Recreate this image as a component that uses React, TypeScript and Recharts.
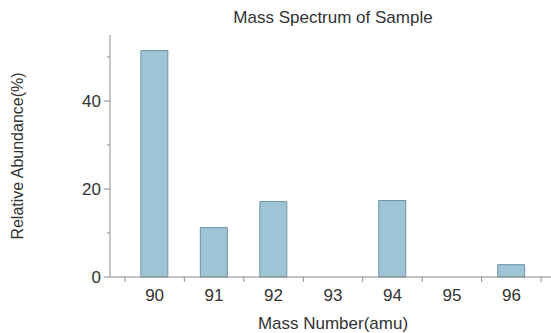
import { BarChart, Bar, XAxis, YAxis } from 'recharts';

const masses = [90, 91, 92, 93, 94, 95, 96];
const abundance = [51.45, 11.22, 17.15, 0, 17.38, 0, 2.8];
const xTicks = [89.5, 90, 90.5, 91, 91.5, 92, 92.5, 93, 93.5, 94, 94.5, 95, 95.5, 96, 96.5];
const yTicks = [0, 10, 20, 30, 40, 50];

const data = masses.map((m, i) => ({ mass: m, abundance: abundance[i] }));

const FONT = '"Liberation Sans", Arial, Helvetica, sans-serif';
const AXIS = '#8c8c8c';
const TEXT = '#333';

const XTick = ({ x, y, payload }: any) => {
  const v = payload.value;
  if (v % 1 !== 0) {
    return <line x1={x} x2={x} y1={y} y2={y + 5} stroke={AXIS} />;
  }
  return (
    <text x={x} y={y + 24} textAnchor="middle" fill={TEXT} fontSize={17} fontFamily={FONT}>
      {v}
    </text>
  );
};

const YTick = ({ x, y, payload }: any) => {
  const v = payload.value;
  if (v % 20 !== 0) {
    return <line x1={x - 3} x2={x} y1={y} y2={y} stroke={AXIS} />;
  }
  return (
    <g>
      <line x1={x - 6} x2={x} y1={y} y2={y} stroke={AXIS} />
      <text x={x - 9} y={y + 6} textAnchor="end" fill={TEXT} fontSize={17} fontFamily={FONT}>
        {v}
      </text>
    </g>
  );
};

export default function App() {
  return (
    <div style={{ position: 'fixed', left: 0, top: 0, width: 551, height: 333, overflow: 'hidden', background: '#fff' }}>
      <div
        style={{
          position: 'absolute',
          left: 110,
          width: 446,
          top: 8,
          textAlign: 'center',
          fontFamily: FONT,
          fontSize: 17,
          color: TEXT,
        }}
      >
        Mass Spectrum of Sample
      </div>
      <BarChart width={570} height={333} data={data} margin={{ top: 35, right: 14, bottom: 0, left: 0 }}>
        <XAxis
          dataKey="mass"
          type="number"
          domain={[89.25, 96.75]}
          ticks={xTicks}
          interval={0}
          tick={<XTick />}
          tickLine={false}
          tickSize={0}
          tickMargin={0}
          height={56}
          stroke={AXIS}
          label={{ value: 'Mass Number(amu)', position: 'insideBottom', offset: 4, fill: TEXT, fontSize: 17, fontFamily: FONT }}
        />
        <XAxis
          xAxisId="top"
          orientation="top"
          dataKey="mass"
          type="number"
          domain={[89.25, 96.75]}
          tick={false}
          tickLine={false}
          height={0}
          stroke={AXIS}
        />
        <YAxis
          type="number"
          domain={[0, 55]}
          ticks={yTicks}
          interval={0}
          tick={<YTick />}
          tickLine={false}
          tickSize={0}
          tickMargin={0}
          width={110}
          stroke={AXIS}
          label={{ value: 'Relative Abundance(%)', angle: -90, position: 'center', dx: -38, fill: TEXT, fontSize: 16, fontFamily: FONT }}
        />
        <Bar dataKey="abundance" fill="#9ec4d6" stroke="#6f93a6" barSize={27} isAnimationActive={false} />
      </BarChart>
    </div>
  );
}
